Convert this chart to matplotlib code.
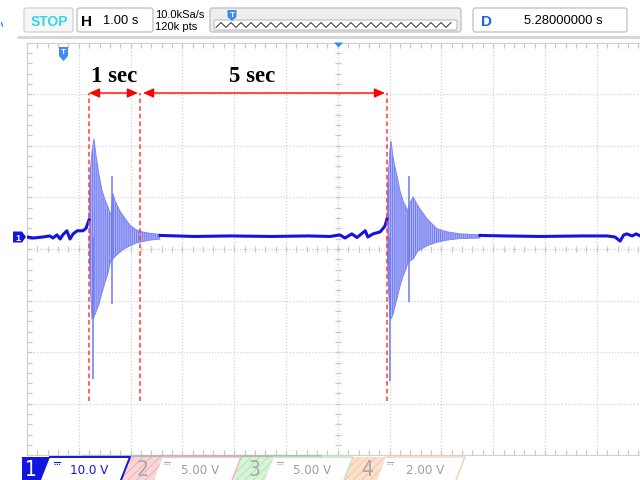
import numpy as np
import matplotlib
matplotlib.use('Agg')
import matplotlib.pyplot as plt
from matplotlib.patches import Polygon, FancyBboxPatch
from matplotlib import font_manager

# scope settings
T_DIV = 1.0          # s/div
V_DIV = 10.0         # V/div
T_CENTER = 5.28      # delay shown in the D box
V_CENTER = -2.33     # channel 1 offset (ground marker sits above centre)

# quiet trace before / between / after the bursts (s, V)
pre1_t = [-0.72, -0.60, -0.41, -0.28, -0.22, -0.14, -0.08, -0.03, 0.05, 0.11, 0.17, 0.25, 0.36, 0.42, 0.477]
pre1_v = [0.0, -0.2, 0.0, 0.2, -0.2, 0.4, -0.4, 0.4, 1.2, -0.4, 0.6, 1.2, 1.2, 1.7, 3.3]
mid_t = [1.848, 2.5, 3.2, 4.0, 4.7, 5.13, 5.32, 5.42, 5.55, 5.65, 5.81, 5.86, 5.96, 6.10, 6.19, 6.230]
mid_v = [0.3, 0.1, 0.2, 0.1, 0.2, 0.1, 0.4, -0.2, 0.6, -0.1, 1.2, 0.0, 0.6, 1.0, 2.1, 3.5]
post2_t = [8.025, 8.5, 9.2, 10.0, 10.48, 10.63, 10.73, 10.80, 10.86, 10.96, 11.04, 11.12]
post2_v = [0.3, 0.2, 0.1, 0.2, 0.2, 0.0, -0.8, 0.4, 0.6, 0.2, 0.6, 0.2]

# ringing envelopes of the two bursts
b1_t = [0.477, 0.496, 0.535, 0.573, 0.612, 0.670, 0.728, 0.786, 0.844, 0.882, 0.902, 0.940, 0.979, 1.075, 1.172, 1.268, 1.384, 1.500, 1.655, 1.848]
b1_hi = [3.3, 12.0, 16.5, 19.0, 15.8, 12.0, 9.0, 7.2, 5.8, 4.6, 4.2, 8.4, 7.0, 5.0, 3.6, 2.3, 1.4, 1.0, 0.7, 0.5]
b1_lo = [0.0, -8.0, -15.9, -15.5, -14.5, -13.0, -10.8, -8.8, -7.0, -5.2, -4.6, -4.2, -3.8, -2.9, -2.2, -1.7, -1.2, -0.9, -0.6, -0.4]
b1_spike_t = [0.554, 0.921]
b1_spike_hi = [0.0, 11.8]
b1_spike_lo = [-27.5, -13.0]

b2_t = [6.230, 6.249, 6.288, 6.307, 6.346, 6.384, 6.423, 6.481, 6.539, 6.597, 6.616, 6.674, 6.732, 6.828, 7.002, 7.195, 7.388, 7.639, 8.025]
b2_hi = [3.5, 11.0, 17.0, 18.6, 15.5, 13.5, 11.8, 8.9, 7.0, 5.8, 5.0, 6.5, 7.8, 6.0, 3.5, 1.6, 1.0, 0.6, 0.4]
b2_lo = [0.0, -8.0, -15.5, -15.9, -15.0, -13.4, -12.0, -9.5, -7.6, -6.2, -5.5, -4.6, -4.3, -2.7, -1.7, -1.0, -0.6, -0.3, -0.2]
b2_spike_t = [6.288, 6.655]
b2_spike_hi = [0.0, 11.8]
b2_spike_lo = [-27.9, -12.6]

# cursor marks and their labels
marker_t = [0.477, 1.461, 6.230]
span_labels = ['1 sec', '5 sec']

# channel strip at the bottom
ch_names = ['1', '2', '3', '4']
ch_scale = ['10.0 V', '5.00 V', '5.00 V', '2.00 V']

names = {f.name for f in font_manager.fontManager.ttflist}
if 'Liberation Sans Narrow' in names:
    NARROW = dict(family='Liberation Sans Narrow')
else:
    NARROW = dict(family='DejaVu Sans', stretch='condensed')
SANS = 'Liberation Sans'

plt.rcParams['hatch.linewidth'] = 0.6

fig = plt.figure(figsize=(6.4, 4.81), dpi=100)
fig.patch.set_facecolor('white')

# screen area in pixels: left 27, top 43.6, bottom 456.4, 51.8 px/div horizontally
px_div_x = 51.8
px_div_y = 51.6
left_px, top_px, bot_px = 27, 250 - 4 * px_div_y, 250 + 4 * px_div_y
ax = fig.add_axes([left_px / 640, (481 - bot_px) / 481, (640 - left_px) / 640, (bot_px - top_px) / 481])
t_left = T_CENTER - 6 * T_DIV
t_right = t_left + (640 - left_px) / px_div_x * T_DIV
ax.set_xlim(t_left, t_right)
ax.set_ylim(V_CENTER - 4 * V_DIV, V_CENTER + 4 * V_DIV)

grid_c = '#d2d2d2'
for k in range(1, 12):
    ax.axvline(t_left + k * T_DIV, color=grid_c, lw=0.9, ls=(0, (1, 1.5)), zorder=0)
for j in range(-3, 4):
    ax.axhline(V_CENTER + j * V_DIV, color=grid_c, lw=0.9, ls=(0, (1, 1.5)), zorder=0)

# small ticks every 0.2 div on the border and the centre cross
xt = t_left + 0.2 * T_DIV * np.arange(0, 60)
yt = V_CENTER + 0.2 * V_DIV * np.arange(-20, 21)
ax.set_xticks(xt)
ax.set_yticks(yt)
ax.tick_params(direction='in', length=3.5, width=0.9, color='#c8c8c8',
               labelbottom=False, labelleft=False, top=True, bottom=True, left=True, right=False)
ax.plot(xt, np.full(len(xt), V_CENTER), ls='none', marker='|', ms=4, mew=0.9, color='#c8c8c8', zorder=0)
ax.plot(np.full(len(yt), T_CENTER), yt, ls='none', marker='_', ms=4, mew=0.9, color='#c8c8c8', zorder=0)
for side in ['left', 'top', 'bottom']:
    ax.spines[side].set_color('#d0d0d0')
ax.spines['right'].set_visible(False)

# the trace
trace_c = '#1414e0'
fill_c = '#aeb4f8'
hatch_c = '#6670ee'
for t, v in [(pre1_t, pre1_v), (mid_t, mid_v), (post2_t, post2_v)]:
    ax.plot(t, v, color=trace_c, lw=2.2, solid_joinstyle='round', zorder=3)
for t, hi, lo in [(b1_t, b1_hi, b1_lo), (b2_t, b2_hi, b2_lo)]:
    ax.fill_between(t, lo, hi, facecolor=fill_c, edgecolor=hatch_c, hatch='||||||||', lw=0, zorder=2)
    ax.plot(t, hi, color='#7c86f2', lw=0.7, zorder=2)
    ax.plot(t, lo, color='#7c86f2', lw=0.7, zorder=2)
for st, sh, sl in [(b1_spike_t, b1_spike_hi, b1_spike_lo), (b2_spike_t, b2_spike_hi, b2_spike_lo)]:
    ax.vlines(st, sl, sh, color='#6e78f0', lw=1.1, zorder=2)

# cursor marks
def px_to_v(y):
    return V_CENTER + (250 - y) / px_div_y * V_DIV

arrow_v = px_to_v(94)
ax.vlines(marker_t, px_to_v(402), arrow_v, color='#ff3a3a', lw=1.1, ls=(0, (3, 2)), zorder=4)
gap = 0.04
spans = [(marker_t[0], marker_t[1] - gap), (marker_t[1] + 1.5 * gap, marker_t[2] - gap)]
label_t = [(marker_t[0] + marker_t[1]) / 2, 3.62]
for (a, b), lab, lt in zip(spans, span_labels, label_t):
    ax.annotate('', xy=(b, arrow_v), xytext=(a, arrow_v),
                arrowprops=dict(arrowstyle='<|-|>,head_length=0.45,head_width=0.2', color='red',
                                lw=1.0, shrinkA=0, shrinkB=0, mutation_scale=14), zorder=4)
    ax.text(lt, px_to_v(76), lab, ha='center', va='center', fontsize=16.5, fontweight='bold',
            family='Liberation Serif', zorder=4)

# --- instrument frame drawn in pixel coordinates ---
ov = fig.add_axes([0, 0, 1, 1], zorder=5)
ov.set_xlim(0, 640)
ov.set_ylim(481, 0)
ov.axis('off')
ov.patch.set_alpha(0)


def box(x0, y0, x1, y1, fc='white', ec='#c4c4c4'):
    ov.add_patch(FancyBboxPatch((x0, y0), x1 - x0, y1 - y0, boxstyle='round,pad=0,rounding_size=2.5',
                                fc=fc, ec=ec, lw=1.0))


ov.plot([17, 640], [37.5, 37.5], color='#d6d6d6', lw=2.2, solid_capstyle='butt')
ov.plot([1.5, 2.5], [24, 27], color='#3a7af0', lw=1.0)

box(24, 9, 73, 33, fc='#f6f6f6', ec='#d4d4d4')
ov.text(49, 21.5, 'STOP', color='#2ed8ea', fontsize=10, fontweight='bold', family=SANS, ha='center', va='center')
box(77, 9, 153, 33)
ov.text(86, 21.5, 'H', fontsize=11, fontweight='bold', family=SANS, ha='center', va='center')
ov.text(121, 21.5, '1.00 s', fontsize=9.3, family=SANS, ha='center', va='center')
ov.text(155, 15.5, '10.0kSa/s', fontsize=8, family=SANS, ha='left', va='center')
ov.text(155, 27, '120k pts', fontsize=8, family=SANS, ha='left', va='center')

box(210, 9, 461, 33, fc='#eeeeee', ec='#c4c4c4')
ov.add_patch(FancyBboxPatch((214, 21), 243, 10, boxstyle='round,pad=0,rounding_size=1.5', fc='white', ec='#bbbbbb', lw=0.8))
zx = np.arange(216, 456, 5.0)
zy = np.where(np.arange(len(zx)) % 2 == 0, 28.5, 23.5)
ov.plot(zx, zy, color='#333333', lw=0.7)
ov.add_patch(Polygon([(227.5, 11), (236.5, 11), (236.5, 18), (232, 22), (227.5, 18)], closed=True, fc='#3a8cf0', ec='none'))
ov.text(232, 15.5, 'T', color='white', fontsize=6, fontweight='bold', family=SANS, ha='center', va='center')

box(473, 9, 627, 33)
ov.text(486, 21.5, 'D', color='#1a64f0', fontsize=11, fontweight='bold', family=SANS, ha='center', va='center')
ov.text(563, 21.5, '5.28000000 s', fontsize=9.3, family=SANS, ha='center', va='center')

# trigger, centre and ground markers
ov.add_patch(Polygon([(59, 48), (68, 48), (68, 57), (63.5, 62), (59, 57)], closed=True, fc='#3a8cf0', ec='none'))
ov.text(63.5, 53, 'T', color='white', fontsize=6, fontweight='bold', family=SANS, ha='center', va='center')
ov.add_patch(Polygon([(334, 43.5), (343, 43.5), (338.5, 48.5)], closed=True, fc='#3090f0', ec='none'))
ov.add_patch(Polygon([(13, 232.5), (22, 232.5), (26, 238), (22, 243.5), (13, 243.5)], closed=True, fc=trace_c, ec='none'))
ov.text(18, 238.3, '1', color='white', fontsize=6.5, fontweight='bold', family=SANS, ha='center', va='center')

# horizontal position bar
ov.plot([82, 322], [457, 457], color='#b8b8b8', lw=1.6, solid_capstyle='butt')

# channel strip
slant = 9
starts = [22, 130, 241, 353]
ends = [130, 241, 353, 465]
fills = [(trace_c, trace_c), ('#fbd6d6', '#f3a9a9'), ('#d8f4d8', '#a9e4a9'), ('#fbe0cc', '#f3c29f')]
edges = ['#1414e0', '#f5b4b4', '#b4e8b4', '#f5cfb0']
num_x = [31, 143, 255, 367]
eq_x = [57, 167, 280, 390]
val_x = [89, 200, 312, 425]
for i in range(4):
    x0, x1 = starts[i], ends[i]
    fw = 28 if i == 0 else 33
    fc, hc = fills[i]
    if i == 0:
        ov.add_patch(Polygon([(x0, 458), (x0 + fw, 458), (x0 + fw - slant, 481), (x0, 481)], closed=True, fc=fc, ec='none'))
    else:
        ov.add_patch(Polygon([(x0, 458), (x0 + fw, 458), (x0 + fw - slant, 481), (x0 - slant, 481)], closed=True,
                             fc=fc, ec=hc, hatch='////', lw=0))
    ov.plot([x0 + fw, x1, x1 - slant], [458, 458, 481], color=edges[i], lw=1.4 if i == 0 else 1.0)
    txt_c = 'white' if i == 0 else '#a8a8a8'
    ov.text(num_x[i], 470.5, ch_names[i], color=txt_c, fontsize=15, ha='center', va='center', **NARROW)
    ec = trace_c if i == 0 else '#a8a8a8'
    ov.plot([eq_x[i] - 3, eq_x[i] + 3], [462.5, 462.5], color=ec, lw=0.8)
    ov.plot([eq_x[i] - 3, eq_x[i] + 3], [465, 465], color=ec, lw=0.8, ls=(0, (1, 1)))
    ov.text(val_x[i], 471, ch_scale[i], color=trace_c if i == 0 else '#a0a0a0', fontsize=9.5,
            ha='center', va='center', **NARROW)

fig.savefig('out.png', dpi=100, facecolor='white')
